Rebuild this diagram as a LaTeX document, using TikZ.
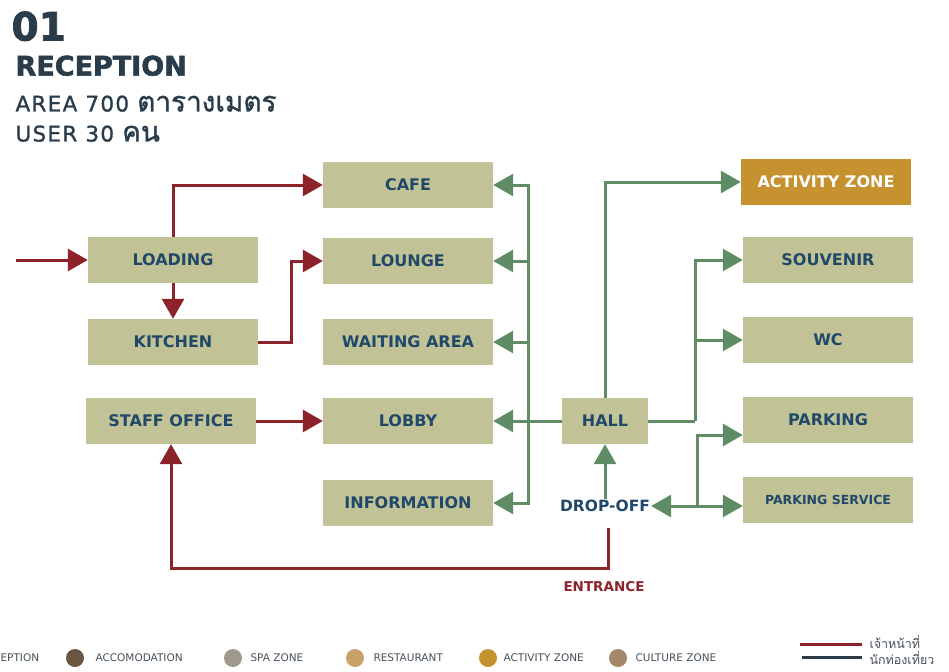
\documentclass[tikz,border=0pt]{standalone}
\usepackage{fontspec}
\usepackage{tikz}
\usetikzlibrary{arrows.meta}
\setmainfont{DejaVu Sans}
\newfontfamily\thaifont[Script=Thai]{Loma}
\newfontfamily\thaibig[Script=Thai,Scale=1.3,FakeBold=1.2]{Loma}
\newfontfamily\headfont[LetterSpace=6,FakeBold=1.2]{DejaVu Sans}
\newfontfamily\titlefont[FakeBold=2]{DejaVu Sans Bold}
\definecolor{boxfill}{RGB}{193,195,150}
\definecolor{boxtext}{RGB}{32,72,105}
\definecolor{staffred}{RGB}{140,35,40}
\definecolor{guestgreen}{RGB}{95,140,100}
\definecolor{actorange}{RGB}{198,146,48}
\definecolor{headdark}{RGB}{42,60,74}
\definecolor{legtext}{RGB}{70,80,90}
\begin{document}
\begin{tikzpicture}[x=1pt,y=-1pt]
\tikzstyle{room}=[rectangle,fill=boxfill,minimum width=170pt,minimum height=46pt,inner sep=0pt,text=boxtext,font=\fontsize{16}{18}\selectfont\bfseries]
\tikzstyle{activity}=[room,fill=actorange,text=white]
\tikzstyle{staff}=[draw=staffred,line width=3pt,-{Triangle[length=20pt,width=22pt]}]
\tikzstyle{guest}=[draw=guestgreen,line width=3pt,-{Triangle[length=20pt,width=22pt]}]
\tikzstyle{dot}=[circle,minimum size=18pt,inner sep=0pt]
\tikzstyle{legend}=[anchor=west,text=legtext,font=\fontsize{10.5}{12}\selectfont]
\useasboundingbox (0,0) rectangle (949,671);
% header
\node[anchor=north west,text=headdark,font=\titlefont\fontsize{39}{42}\selectfont] (T_num) at (8,8) {01};
\node[anchor=north west,text=headdark,font=\titlefont\fontsize{27}{30}\selectfont] (T_name) at (12,52) {RECEPTION};
\node[anchor=north west,text=headdark,font=\headfont\fontsize{21.5}{24}\selectfont] (T_area) at (12,92) {AREA 700 {\thaibig ตารางเมตร}};
\node[anchor=north west,text=headdark,font=\headfont\fontsize{21.5}{24}\selectfont] (T_user) at (12,122) {USER 30 {\thaibig คน}};
% rooms
\node[room] (R_loading) at (173,260) {LOADING};
\node[room] (R_kitchen) at (173,342) {KITCHEN};
\node[room] (R_staff) at (171,421) {STAFF OFFICE};
\node[room] (R_cafe) at (408,185) {CAFE};
\node[room] (R_lounge) at (408,261) {LOUNGE};
\node[room] (R_waiting) at (408,342) {WAITING AREA};
\node[room] (R_lobby) at (408,421) {LOBBY};
\node[room] (R_info) at (408,503) {INFORMATION};
\node[room,minimum width=86pt] (R_hall) at (605,421) {HALL};
\node[activity] (R_activity) at (826,182) {ACTIVITY ZONE};
\node[room] (R_souvenir) at (828,260) {SOUVENIR};
\node[room] (R_wc) at (828,340) {WC};
\node[room] (R_parking) at (828,420) {PARKING};
\node[room,font=\fontsize{12.5}{14}\selectfont\bfseries] (R_parkserv) at (828,500) {PARKING SERVICE};
\node[text=boxtext,font=\fontsize{15.5}{18}\selectfont\bfseries,inner sep=1pt] (R_drop) at (605,506) {DROP-OFF};
\node[text=staffred,font=\fontsize{13.5}{16}\selectfont\bfseries] (R_entrance) at (604,587) {ENTRANCE};
\coordinate (C_in) at (16,260);
\coordinate (C_gate) at (608,528);
\coordinate (C_bus) at (528,421);
\coordinate (C_split) at (695,421);
\coordinate (C_park) at (697,506);
% staff routes
\draw[staff] (C_in) -- (R_loading.west);
\draw[staff] (R_loading.north) |- (R_cafe.west);
\draw[staff] (R_loading) -- (R_kitchen);
\draw[staff] (R_kitchen.east) -- ++(33,0) |- (R_lounge.west);
\draw[staff] (R_staff) -- (R_lobby);
\draw[staff] (C_gate) -- (608,568) -| (R_staff.south);
% guest routes
\draw[guest] (R_hall) -- (R_lobby);
\draw[guest] (C_bus) |- (R_cafe.east);
\draw[guest] (C_bus) |- (R_lounge.east);
\draw[guest] (C_bus) |- (R_waiting.east);
\draw[guest] (C_bus) |- (R_info.east);
\draw[guest] (R_hall.north) |- (R_activity.west);
\draw[guest,-] (R_hall.east) -- (C_split);
\draw[guest] (C_split) |- (R_souvenir.west);
\draw[guest] (C_split) |- (R_wc.west);
\draw[guest] (R_drop) -- (R_hall);
\draw[guest,{Triangle[length=20pt,width=22pt]}-{Triangle[length=20pt,width=22pt]}] (R_drop.east) -- (R_drop.east -| R_parkserv.west);
\draw[guest] (C_park) |- (R_parking.190);
% legend
\node[legend] (L_rec) at (-3,658) {EPTION};
\node[dot,fill={rgb,255:red,107;green,86;blue,65}] (L_d1) at (75,658) {};
\node[legend] (L_acc) at (92,658) {ACCOMODATION};
\node[dot,fill={rgb,255:red,160;green,154;blue,141}] (L_d2) at (233,658) {};
\node[legend] (L_spa) at (247,658) {SPA ZONE};
\node[dot,fill={rgb,255:red,201;green,160;blue,106}] (L_d3) at (355,658) {};
\node[legend] (L_res) at (370,658) {RESTAURANT};
\node[dot,fill=actorange] (L_d4) at (488,658) {};
\node[legend] (L_act) at (500,658) {ACTIVITY ZONE};
\node[dot,fill={rgb,255:red,165;green,135;blue,106}] (L_d5) at (618,658) {};
\node[legend] (L_cul) at (632,658) {CULTURE ZONE};
\coordinate (L_a) at (800,644);
\coordinate (L_b) at (862,644);
\coordinate (L_c) at (802,657);
\coordinate (L_e) at (862,657);
\draw[staffred,line width=3pt] (L_a) -- (L_b);
\draw[headdark,line width=3pt] (L_c) -- (L_e);
\node[legend,font=\thaifont\fontsize{12.5}{14}\selectfont] (L_staff) at (866,642) {เจ้าหน้าที่};
\node[legend,font=\thaifont\fontsize{12.5}{14}\selectfont] (L_guest) at (866,658) {นักท่องเที่ยว};
\end{tikzpicture}
\end{document}
